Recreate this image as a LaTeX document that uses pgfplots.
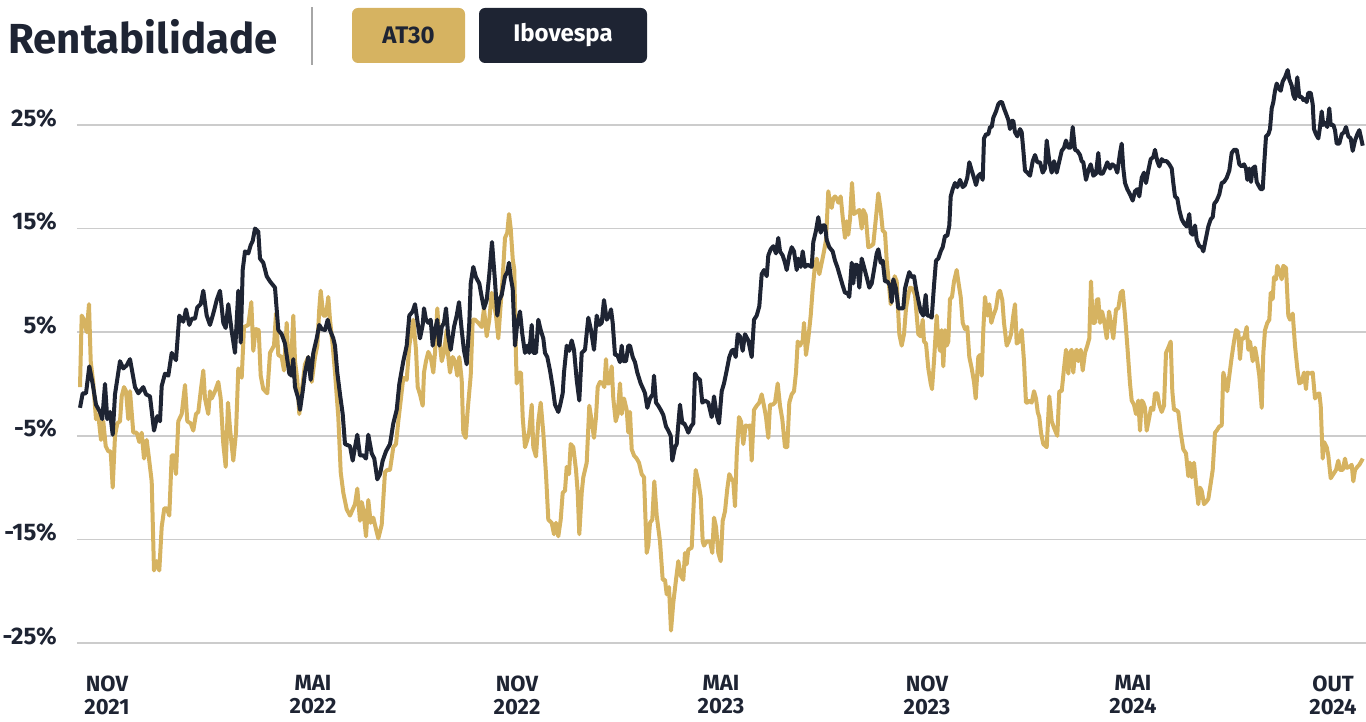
\documentclass[border=0pt]{standalone}
\usepackage{fontspec}
\setmainfont{Fira Sans}
\usepackage{pgfplots}
\pgfplotsset{compat=1.18}
\definecolor{gold}{HTML}{D6B361}
\definecolor{navy}{HTML}{1E2433}
\definecolor{labelc}{HTML}{1E2433}
\definecolor{gridc}{HTML}{CCCCCC}

\begin{document}
\begin{tikzpicture}
\useasboundingbox (-38.5pt,-39.5pt) rectangle (644.5pt,321.5pt);
\begin{axis}[
  scale only axis,
  width=644.5pt, height=291.5pt,
  xmin=-3, xmax=1286, ymin=-25, ymax=31.27,
  axis line style={draw=none},
  major tick length=0pt,
  ytick={-25,-15,-5,5,15,25},
  yticklabels={-25\%,-15\%,-5\%,5\%,15\%,25\%},
  xtick={27,233,437,641,847,1053,1253},
  xticklabels={{NOV\\2021},{MAI\\2022},{NOV\\2022},{MAI\\2023},{NOV\\2023},{MAI\\2024},{OUT\\2024}},
  ymajorgrids,
  grid style={gridc, line width=0.8pt},
  x tick label style={align=center, font=\bfseries\fontsize{11}{11.5}\selectfont, inner sep=0pt, anchor=north, yshift=-16pt, text=labelc},
  y tick label style={font=\bfseries\fontsize{12}{14}\selectfont, inner sep=0pt, anchor=east, xshift=-10pt, yshift=3.5pt, text=labelc},
  clip=false,
]
\addplot[gold, line width=2pt, line join=round] coordinates {
(0,-0.3)(1.7,6.6)(4,6.2)(6.7,5.0)(9,7.7)(10.7,2.2)(13.3,0.05)(16,-3.4)(18.3,-3.0)(21,-5.4)
(23.3,-3.6)(25.7,-6.0)(28.3,-6.5)(30.7,-6.5)(32.7,-10.0)(35,-5.0)(37.3,-3.8)(40,-3.6)(41.7,-1.2)(44,-0.3)
(46,-0.7)(48.3,-3.4)(50,-0.7)(53.3,-4.7)(56.7,-4.7)(59.3,-5.6)(61.7,-4.7)(64,-7.2)(66.7,-5.4)(69,-7.2)
(71.7,-9.4)(74,-18.0)(76.7,-17.1)(79.3,-18.0)(81.7,-13.8)(84.3,-12.0)(86.7,-12.0)(89.3,-12.7)(91.7,-6.9)(94,-6.9)
(96,-8.7)(98.3,-3.6)(101.7,-2.9)(105,-0.1)(107.3,-3.6)(110.7,-3.8)(113.3,-4.5)(116,-2.9)(118.3,-2.7)(120.7,-0.7)
(123.3,1.3)(125,-1.4)(128.3,-2.9)(130,-0.7)(131.7,-1.4)(135,-0.7)(138.3,0.2)(140.7,-1.4)(143.3,-5.8)(145.7,-8.0)
(148,-1.8)(150,-4.3)(153.3,-7.4)(156,-4.7)(158.3,1.5)(161.7,0.6)(164,5.5)(168.3,5.7)(171.3,7.9)(173.3,3.2)
(175.7,5.3)(178.7,5.2)(180.7,0.8)(183.3,-0.5)(187.3,-0.9)(190,3.0)(194,3.7)(196,6.8)(198.3,2.8)(201.7,2.6)
(204,1.3)(206.7,5.9)(208.3,2.2)(210.7,1.1)(213.3,6.6)(215,2.2)(217.3,0.4)(219.3,-2.9)(221.7,-0.7)(225,1.9)
(228.3,2.6)(231.7,0.2)(235,2.6)(237.3,3.7)(239.3,7.3)(240.7,9.0)(243.3,6.6)(246,6.6)(248.3,8.4)(250,6.2)
(252.7,3.7)(255,1.1)(258.3,-3.2)(260.7,-8.5)(263.3,-10.5)(266.7,-12.1)(270,-12.7)(272.7,-12.1)(275,-11.6)(277.3,-10.1)
(280,-13.2)(281.7,-11.4)(283.3,-12.1)(286,-14.7)(288.3,-11.2)(290.7,-13.4)(293.3,-12.9)(296,-14.0)(298.3,-14.9)(301.7,-13.6)
(305,-8.5)(307.3,-8.3)(310,-8.3)(313.3,-6.1)(316,-5.8)(318.3,-3.6)(320.7,-1.6)(323.3,0.6)(326.7,0.4)(329.3,3.7)
(331.7,5.2)(333.3,6.2)(336,3.3)(337.7,-0.3)(340,-1.0)(342.7,-2.1)(344,1.1)(346,2.2)(348.3,3.1)(350.7,2.6)
(353.3,1.1)(355,3.0)(357.3,7.3)(359.3,4.4)(361.7,2.2)(364,3.0)(366.7,5.2)(368.3,2.6)(370,1.1)(372.7,2.6)
(375,2.2)(377.3,0.8)(379.3,2.6)(381.7,0.4)(383.3,-4.7)(385.7,-5.2)(387.7,-2.5)(390.7,0.8)(392.7,6.2)(395,6.2)
(398.3,5.9)(401.7,5.5)(404,7.3)(406.7,4.6)(409.3,6.2)(411.7,8.8)(414,7.7)(416,6.6)(418.3,4.4)(420.7,7.7)
(422.7,10.3)(425,14.1)(427.3,14.6)(429,16.4)(430.7,15.0)(432.7,12.1)(434.3,11.0)(435.7,3.7)(436.7,0.05)(439.3,1.1)
(441,1.1)(442.7,-3.2)(445,-6.1)(447.3,-5.4)(449.3,-4.5)(451.7,-2.0)(453.3,-6.1)(456,-7.0)(458.3,-3.6)(460.7,-1.8)
(463.3,-4.7)(466,-8.7)(468.3,-13.1)(471.7,-13.4)(474,-14.5)(476,-13.4)(478.3,-14.7)(480.7,-13.1)(482.7,-10.5)(485,-10.3)
(486.7,-8.0)(489,-8.7)(490.7,-5.8)(493.3,-6.1)(496,-8.3)(497.7,-10.5)(499.3,-14.5)(501.7,-10.5)(503.3,-9.0)(506.7,-7.6)
(509.3,-2.1)(511.7,-3.6)(514,-5.2)(516,-3.2)(517.7,-0.3)(520,0.2)(522.7,0.05)(524.3,-0.3)(526,2.4)(527.3,0.05)
(529.3,0.05)(531.7,1.7)(533.3,-1.4)(535.7,-3.6)(537.7,-2.9)(540,0.05)(541.7,-2.9)(544,-1.4)(546.7,-2.5)(548.3,-4.7)
(550,-2.7)(551.7,-6.3)(554,-6.9)(556.7,-7.2)(559,-7.6)(561.7,-8.7)(564,-9.0)(566.7,-16.3)(568.3,-15.6)(570,-13.4)
(572.3,-13.1)(574.3,-9.4)(576.7,-12.7)(580,-15.2)(582.7,-18.9)(585,-18.9)(586.7,-20.3)(589,-19.6)(591,-23.8)(593.3,-21.1)
(596,-18.9)(598.3,-17.1)(600.7,-18.5)(603.3,-18.9)(605,-16.3)(606.7,-17.4)(608.3,-16.0)(611.7,-15.8)(614,-10.9)(615.7,-8.3)
(618.3,-9.4)(620.7,-10.9)(622.7,-15.2)(624,-15.6)(626.7,-15.2)(630,-15.2)(632.3,-16.3)(634,-12.9)(636,-13.8)(638.3,-16.3)
(640.7,-17.1)(642.7,-13.2)(645,-12.3)(647.3,-10.1)(649.3,-8.7)(651.7,-9.2)(653.3,-9.4)(655,-11.8)(656.7,-6.9)(659,-3.2)
(661,-3.6)(663.3,-5.8)(665.7,-4.0)(667.7,-4.1)(670,-4.0)(671.7,-7.4)(674,-2.5)(676.7,-2.1)(679.3,-1.8)(681.7,-1.0)
(684,-2.1)(686,-3.2)(688.3,-5.2)(690,-2.0)(692.7,-2.0)(695,-1.8)(697.7,0.05)(700,-2.1)(702.3,-3.4)(705,-6.1)
(707.3,-6.1)(709.3,-1.8)(711.7,-1.0)(714,-0.7)(716,1.1)(717.7,4.1)(720,3.7)(722.7,4.2)(724,5.9)(726,2.8)
(728.3,4.4)(730.7,6.6)(732.7,9.2)(735,11.5)(736.7,12.1)(739.3,10.6)(741.7,11.7)(744,12.8)(746,13.9)(748.3,18.6)
(750,17.5)(751.7,17.0)(753.3,17.9)(755,18.1)(756.7,17.9)(758.3,17.5)(760.7,18.1)(762.7,16.1)(765,14.1)(766.7,15.7)
(768.3,14.4)(770,15.9)(772,19.4)(774,16.4)(776.7,16.6)(779.3,16.8)(781.7,15.0)(783.3,16.8)(785.7,16.3)(788.3,13.2)
(790.7,13.3)(793.3,13.5)(796,16.1)(798.3,18.4)(800.7,16.8)(802.7,14.8)(805,14.6)(806.7,11.9)(808.3,10.3)(810.7,7.7)
(812.7,8.8)(814.7,10.4)(816.7,9.9)(819.3,4.8)(821.7,3.7)(824,4.8)(826,7.3)(828.3,8.6)(830,9.3)(832.7,9.2)
(835,8.6)(836.7,6.6)(838.3,4.8)(840.7,4.6)(842.7,6.2)(844,4.1)(846,3.9)(848.3,1.5)(850.7,0.05)(852,-0.5)
(854,2.2)(856.7,6.6)(858.3,4.1)(860,3.2)(861.7,5.2)(863.3,1.7)(865,5.2)(866.7,3.7)(868.3,4.1)(870,8.2)
(872,8.4)(874,9.9)(876.7,11.0)(878.3,9.9)(880.7,8.4)(882.7,5.9)(885,5.3)(887.3,5.5)(889.3,2.6)(891.7,1.5)
(894,0.2)(895.7,-1.4)(898.3,2.6)(900,2.8)(901.7,0.8)(903.3,5.2)(905,8.4)(907.3,6.6)(909.3,7.7)(911.3,5.9)
(913.3,6.6)(916,7.3)(918.3,8.8)(920,9.0)(922.3,8.1)(924,5.9)(926.7,3.7)(928.7,4.1)(931,4.8)(933.3,6.6)
(935,7.7)(936.7,3.9)(939,4.1)(941.7,5.2)(944,2.2)(946,-1.8)(947.3,-1.8)(949.3,-1.6)(951.7,-1.8)(954,-0.7)
(956,-1.4)(957.7,-2.7)(959.3,-3.2)(961,-4.7)(963.3,-5.8)(966.7,-6.1)(969.3,-1.2)(971.7,-3.6)(974.3,-4.3)(977.3,-5.0)
(979.3,-0.7)(981.7,-0.7)(984,1.5)(986,3.3)(988.3,1.0)(990,3.0)(991.7,3.3)(993.3,1.1)(995,3.0)(996.7,3.3)
(998.3,2.2)(1000.7,3.3)(1002.7,1.3)(1005,3.0)(1007.3,3.7)(1009.3,4.4)(1011,9.9)(1012.7,5.9)(1015,5.9)(1016.7,8.1)
(1018.3,8.2)(1020,5.9)(1022,7.0)(1024,6.2)(1026.7,4.4)(1029,7.0)(1031,5.9)(1033.3,4.4)(1036,7.2)(1038.3,7.3)
(1040.7,8.8)(1042.7,9.0)(1045,6.6)(1047.3,3.7)(1050,0.05)(1051.7,-1.6)(1054,-2.0)(1056,-2.9)(1058.3,-1.6)(1060,-4.5)
(1061.7,-1.6)(1063.3,-1.8)(1065,-2.3)(1066.7,-4.5)(1069.3,-3.2)(1071,-2.3)(1073.3,-2.5)(1075,-0.9)(1077.3,-0.9)(1079.3,-2.0)
(1081.7,-2.7)(1084,-2.1)(1086,3.0)(1088.3,3.5)(1090.7,4.1)(1092.3,-0.7)(1094,-2.5)(1096,-2.5)(1098.3,-2.7)(1100.7,-4.7)
(1103.3,-6.3)(1106,-6.7)(1108.3,-8.9)(1110,-7.6)(1111.7,-9.0)(1114,-7.6)(1116,-9.6)(1118.3,-11.6)(1120,-10.0)(1121.7,-10.3)
(1124,-11.6)(1126,-11.4)(1128.3,-11.1)(1130.7,-9.6)(1132.7,-8.3)(1135,-4.7)(1136.7,-4.5)(1139.3,-4.1)(1141.7,-4.0)(1143.3,1.1)
(1146,0.05)(1147.3,-0.7)(1149.3,0.8)(1151.7,2.6)(1154,4.1)(1156,5.2)(1158.3,5.0)(1160,2.4)(1161.7,4.4)(1164,4.4)
(1166.7,5.5)(1168.3,3.3)(1170,4.1)(1172.7,2.2)(1175,3.5)(1176.7,2.6)(1179.3,0.8)(1181.7,-2.3)(1183.3,3.0)(1185,5.2)
(1187.3,5.9)(1189.3,6.2)(1190.7,8.8)(1192.7,8.2)(1194,10.3)(1196,10.1)(1197.3,11.4)(1199.3,11.0)(1201.7,10.1)(1203.3,11.4)
(1206,11.2)(1208.3,6.6)(1210,6.2)(1212.7,6.8)(1215,3.7)(1217.3,1.5)(1219.3,0.05)(1221.7,0.2)(1224,1.1)(1226,-0.5)
(1227.3,1.1)(1230,1.0)(1232.7,1.1)(1235,-1.4)(1237.3,-1.0)(1239.3,-0.9)(1240.7,-2.1)(1242.7,-7.2)(1244,-5.6)(1246.7,-6.1)
(1248.3,-6.9)(1250.7,-9.1)(1253.3,-8.7)(1256,-8.3)(1258.3,-7.4)(1260,-8.3)(1262.7,-8.3)(1265,-7.2)(1266.7,-8.1)(1269.3,-8.0)
(1271.7,-7.8)(1273.3,-9.4)(1275,-8.3)(1277.3,-8.0)(1279.3,-7.8)(1281.7,-7.4)(1282.7,-7.2)
};
\addplot[navy, line width=2pt, line join=round] coordinates {
(0,-2.3)(2.7,-0.9)(6,-0.9)(9.3,1.7)(12.7,0.0)(16,-2.0)(20,-2.7)(22.3,-3.4)(25,0.0)(27.3,-3.4)
(30,-2.7)(32.7,-4.9)(35,-1.0)(40,2.2)(43.3,1.5)(46.7,1.8)(50,2.4)(55,-0.3)(58.3,-0.9)(63.3,-0.3)
(66,-1.0)(70,-1.2)(74,-4.5)(77.3,-3.1)(80,-3.6)(81.7,-0.2)(85,1.0)(88.3,0.8)(91.7,3.0)(96,2.3)
(99.3,6.6)(103.3,6.0)(106,7.2)(109.3,5.7)(111.7,6.3)(115,6.3)(117.3,7.4)(120.7,7.7)(123.3,9.0)(126.7,6.6)
(130,5.7)(133.3,6.8)(136.7,8.1)(140,9.0)(143.3,5.9)(145.7,5.4)(148.3,7.7)(151.7,5.1)(155,3.0)(158.3,9.0)
(160.7,4.0)(162.7,11.0)(165,12.8)(168.3,12.6)(170.7,13.4)(172.7,13.8)(175,15.0)(178.3,14.7)(180,12.1)(183.3,11.7)
(186.7,10.4)(190,9.9)(195,9.3)(198.3,5.2)(201.7,4.8)(205,3.9)(209.3,1.0)(211.7,0.8)(213.3,2.4)(215,-0.3)
(218.3,-1.4)(220,-2.5)(222.7,-0.7)(225,1.1)(228.3,2.6)(230.7,0.4)(233.3,3.0)(236.7,4.4)(239.3,5.7)(241.7,5.3)
(245,5.2)(247.7,6.2)(250,5.2)(253.3,4.4)(255,3.7)(257.3,1.1)(260,-1.0)(262.7,-2.9)(265,-5.8)(270,-6.0)
(272.7,-7.4)(275,-6.1)(277.3,-4.9)(280,-6.9)(283.3,-6.9)(286,-7.2)(288.3,-4.9)(291.7,-6.7)(294.3,-7.2)(297.3,-9.2)
(300,-8.7)(302.7,-7.4)(306,-6.5)(310,-5.8)(313.3,-3.8)(316.7,-2.5)(319.3,0.0)(323.3,2.2)(326.7,3.7)(329.3,6.6)
(332.7,7.0)(335,7.7)(337.7,5.9)(340,4.4)(342.7,5.7)(344,7.3)(346,6.2)(348.3,5.9)(350.7,6.2)(352.7,3.7)
(355,5.2)(357.3,6.2)(359.3,3.7)(361.7,5.5)(364,5.9)(366,7.3)(368.3,4.6)(370.7,3.3)(374,5.5)(376.7,6.6)
(379,7.9)(381.7,5.2)(384,3.2)(386.7,1.9)(389.3,5.9)(390.7,9.7)(393.3,11.3)(396,10.3)(399.3,9.7)(401.7,8.4)
(404,7.3)(406.7,8.1)(409.3,10.6)(412,13.7)(415,9.9)(417.3,6.6)(419.3,8.1)(421.7,8.6)(425,10.4)(427.3,10.8)
(429,11.7)(430.7,10.3)(432.7,9.2)(435,3.7)(437.3,5.9)(440,7.0)(442.3,4.8)(445,3.0)(447.3,3.7)(449.3,3.0)
(451.7,5.7)(453.3,3.0)(456,3.0)(458.3,6.2)(460.7,5.2)(463.3,4.4)(465,3.0)(467.3,2.6)(470,1.3)(472.7,-0.3)
(475,-2.0)(478.3,-2.7)(480,-2.1)(482.7,-0.9)(484,1.1)(486.7,3.7)(489.3,3.2)(491.7,4.2)(494,3.3)(496.7,0.4)
(499.3,-1.6)(501.7,3.0)(505,3.3)(508.3,6.4)(511,5.2)(514,3.3)(516.7,6.6)(519.3,5.7)(521.7,5.9)(524,8.1)
(526.7,6.2)(529.3,6.6)(531,7.2)(532.7,5.9)(535,2.8)(537.3,2.8)(540,2.1)(541.7,3.7)(543.3,2.2)(546,2.2)
(548.3,3.7)(550,3.7)(552.7,2.6)(555,2.1)(557.3,1.1)(560.7,0.05)(563.3,-0.5)(565,-0.9)(567.3,-2.3)(570,-1.4)
(572.7,-1.0)(574,0.8)(576,-1.8)(578.3,-2.1)(580.7,-2.5)(583.3,-3.0)(586,-4.1)(588.3,-4.5)(590.7,-5.0)(592.3,-7.4)
(595,-6.1)(596.7,-5.8)(598.3,-3.9)(600,-2.0)(602.3,-3.8)(604.3,-3.8)(606.7,-4.3)(608.3,-4.7)(611,-4.1)(613.3,-3.8)
(615,1.0)(617.3,0.6)(620,0.4)(622.3,-1.8)(625,-1.6)(628.3,-1.8)(631.7,-3.2)(634,-1.2)(636.7,-3.0)(639,-3.8)
(641.7,-0.7)(644,0.05)(646.7,1.3)(649.3,2.6)(651.7,3.2)(653.3,3.3)(655.7,2.6)(657.7,4.8)(660,4.6)(662.7,3.2)
(665,4.8)(668.3,4.2)(671.7,2.6)(674,6.2)(676.7,6.6)(679.3,7.5)(681.7,10.6)(684,11.0)(686.7,10.4)(688.3,12.4)
(690.7,13.0)(693.3,13.3)(696,12.6)(698.3,14.1)(700,12.8)(702.7,12.4)(705,11.7)(706.7,11.0)(709.3,12.4)(711.7,13.2)
(714,12.8)(716.7,11.0)(718.3,12.1)(720.7,11.3)(722.7,12.8)(725,11.3)(727.3,11.5)(730,11.4)(731.7,11.3)(733.3,13.7)
(736,14.8)(738.3,16.1)(740.7,14.6)(742.7,15.3)(745,15.3)(746.7,13.9)(749.3,13.2)(752.7,12.8)(755,11.9)(757.3,11.3)
(760,10.4)(762.7,9.5)(765,8.8)(767.3,8.8)(769.3,8.4)(771.7,11.7)(773.3,9.7)(775,11.5)(777.3,11.5)(779.3,9.3)
(781.7,12.1)(784,11.3)(786.7,10.3)(789.3,9.3)(791.7,9.7)(794,11.0)(796.7,12.6)(798.3,13.0)(800.7,11.7)(802.7,11.9)
(805,9.9)(807.3,9.9)(810,9.5)(811.7,7.9)(813.3,10.1)(816,9.2)(818.3,7.3)(820,7.3)(823.3,7.3)(825,9.2)
(827.3,10.1)(829.3,10.8)(831.7,10.3)(834,10.4)(836,9.2)(838.3,8.1)(840.7,7.0)(843.3,6.6)(845.7,8.6)(847.3,6.6)
(849.3,6.6)(851.7,6.4)(854,9.5)(856,11.9)(858.3,12.1)(860.7,12.8)(862.7,13.2)(865,14.3)(867.3,14.3)(869.3,15.3)
(870.7,18.1)(872.7,18.8)(875,19.4)(877.3,19.0)(880,19.7)(882.7,19.0)(885,19.2)(887.3,19.9)(889.3,21.4)(891.7,20.6)
(894,19.9)(896,19.2)(898.3,20.1)(900.7,20.3)(902.7,19.7)(904,23.7)(906,24.1)(908.3,24.1)(910,24.8)(911.7,24.8)
(913.3,25.7)(916,26.3)(918.3,27.0)(920,27.2)(922,27.2)(924,26.6)(926,26.1)(928.3,25.5)(930,24.6)(931.7,25.4)
(933.3,25.4)(935,24.3)(937.3,23.9)(940,24.6)(941.7,24.3)(943.3,22.6)(945,20.6)(947.3,20.4)(950,20.1)(952.7,21.5)
(955,22.1)(957.3,21.4)(960,21.4)(962.7,20.4)(965,20.8)(966.7,23.5)(969.3,21.5)(971.7,20.4)(974,21.5)(976.7,20.4)
(979.3,21.5)(981.7,22.5)(984,22.8)(986,23.5)(988.3,22.8)(990.7,22.8)(992.7,24.8)(995,22.6)(997.3,22.5)(1000,22.1)
(1001.7,21.5)(1003.3,21.4)(1006,19.7)(1008.3,20.6)(1010.7,21.2)(1013.3,20.1)(1016,20.3)(1018.3,22.3)(1020,20.3)(1022.7,20.3)
(1025,20.8)(1027.3,21.4)(1030,20.8)(1032.3,21.2)(1035,21.0)(1037.3,20.4)(1040,22.3)(1041.7,23.2)(1043.3,20.8)(1045,19.4)
(1047.3,18.8)(1050,18.3)(1052.7,17.7)(1055,18.6)(1057.3,18.8)(1059.3,18.1)(1061.7,19.9)(1064,20.4)(1066,19.4)(1068.3,20.6)
(1070.7,21.7)(1073.3,21.9)(1075,22.6)(1077.3,21.5)(1079.3,21.0)(1081.7,21.7)(1084,21.5)(1086.7,21.5)(1089.3,21.2)(1091.7,20.8)
(1093.3,19.4)(1095,18.1)(1097.3,17.9)(1099.3,16.8)(1101.7,15.9)(1104,15.5)(1106.7,15.2)(1109.3,16.4)(1110.7,14.6)(1112.7,14.4)
(1115,15.3)(1116.7,13.9)(1119.3,13.3)(1121.7,13.2)(1123.3,12.8)(1126,14.1)(1128.3,15.2)(1130.7,15.9)(1132.7,16.1)(1134.3,17.4)
(1136.7,17.7)(1139.3,18.3)(1141.7,19.4)(1144,19.5)(1146.7,19.9)(1149.3,20.6)(1151.7,22.3)(1154,22.6)(1156.7,22.6)(1159.3,21.2)
(1161.7,21.0)(1164,21.2)(1166,20.8)(1167.3,19.7)(1169.3,20.8)(1171,19.5)(1172.7,20.8)(1175,21.0)(1176.7,19.5)(1178.3,19.2)
(1180.7,18.8)(1182.7,18.8)(1184.3,21.4)(1186,23.9)(1188.3,24.1)(1190,24.6)(1191.7,26.6)(1193.3,27.2)(1195,28.3)(1196.7,29.0)
(1199,28.5)(1200.7,28.3)(1202.7,29.2)(1205,29.6)(1207.7,30.3)(1209.3,29.4)(1211.7,28.8)(1213.3,27.9)(1215,27.5)(1217.3,29.6)
(1219.3,27.7)(1221.7,27.7)(1223.3,27.4)(1225,27.5)(1226.7,27.2)(1228.3,28.1)(1230.7,28.1)(1232.7,27.0)(1234,24.6)(1236,24.1)
(1238.3,23.7)(1240,24.8)(1241.7,26.3)(1243.3,25.0)(1245,25.2)(1247.3,24.8)(1249.3,26.6)(1250.7,25.0)(1253.3,25.0)(1255,24.5)
(1256.7,23.2)(1259.3,23.2)(1261.7,24.1)(1264,24.3)(1266,24.8)(1268.3,23.9)(1270.7,23.7)(1272.7,22.5)(1275,23.5)(1277.3,24.1)
(1279.3,24.5)(1280.7,23.9)(1282.7,23.0)
};
\end{axis}
% header
\node[anchor=base west, inner sep=0pt, text=labelc, font=\bfseries\fontsize{21}{25}\selectfont] at (-34.5pt,294.5pt) {Rentabilidade};
\draw[color=gray!70, line width=1pt] (117.5pt,289pt) -- (117.5pt,318pt);
\fill[gold, rounded corners=3pt] (137.5pt,290pt) rectangle (194pt,317.5pt);
\node[text=labelc, font=\bfseries\fontsize{12}{14}\selectfont] at (165.75pt,303.75pt) {AT30};
\fill[navy, rounded corners=3pt] (201pt,290pt) rectangle (285pt,317.5pt);
\node[text=white, font=\bfseries\fontsize{12}{14}\selectfont] at (243pt,303.75pt) {Ibovespa};
\end{tikzpicture}
\end{document}
